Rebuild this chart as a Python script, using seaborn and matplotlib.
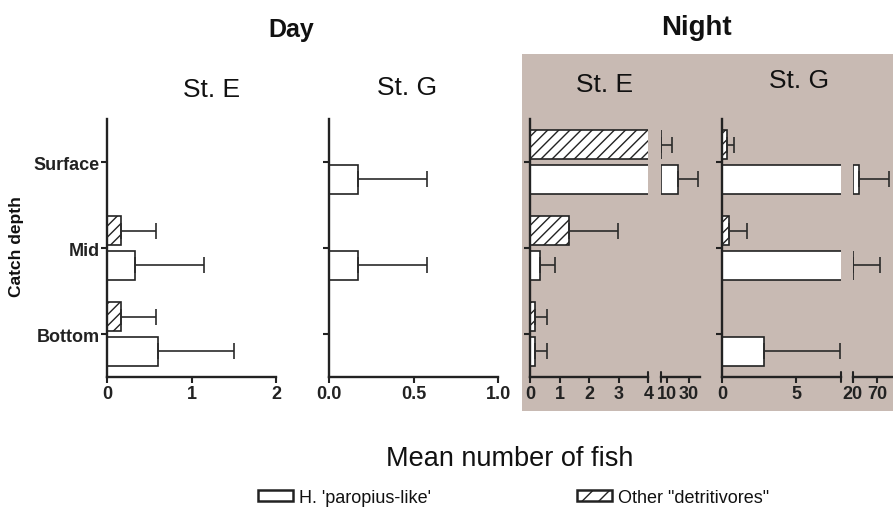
import matplotlib
matplotlib.use('Agg')
import matplotlib.pyplot as plt
from matplotlib.patches import Patch, Rectangle
import pandas as pd
import seaborn as sns

# данные: средние и SE по глубинам
depths = ['Surface', 'Mid', 'Bottom']
groups = ['Other "detritivores"', "H. 'paropius-like'"]

day_e_par = [0, 0.33, 0.6]
day_e_par_se = [0, 0.82, 0.9]
day_e_oth = [0, 0.17, 0.17]
day_e_oth_se = [0, 0.41, 0.41]

day_g_par = [0.17, 0.17, 0]
day_g_par_se = [0.41, 0.41, 0]
day_g_oth = [0, 0, 0]
day_g_oth_se = [0, 0, 0]

night_e_par = [20, 0.33, 0.17]
night_e_par_se = [18, 0.52, 0.41]
night_e_oth = [4.7, 1.33, 0.17]
night_e_oth_se = [10.3, 1.63, 0.41]

night_g_par = [33, 21, 2.8]
night_g_par_se = [61, 54, 5.1]
night_g_oth = [0.33, 0.5, 0]
night_g_oth_se = [0.47, 1.2, 0]

sns.set_style('ticks')
plt.rcParams['font.family'] = ['Liberation Sans', 'DejaVu Sans']
plt.rcParams['hatch.linewidth'] = 1.0
plt.rcParams['text.color'] = '#111111'
plt.rcParams['xtick.color'] = '#222222'
plt.rcParams['ytick.color'] = '#222222'
plt.rcParams['axes.edgecolor'] = '#222222'
narrow = ['Liberation Sans Narrow', 'Liberation Sans', 'DejaVu Sans']

W, H = 893, 510
fig = plt.figure(figsize=(W / 100, H / 100), dpi=100)

# серый фон для ночи
fig.patches.append(Rectangle((521.7 / W, 1 - 412 / H), (W - 521.7) / W, 357 / H,
                             transform=fig.transFigure, facecolor='#c8bab3',
                             edgecolor='none', zorder=-5))


def make_ax(x0, x1):
    ax = fig.add_axes([x0 / W, 1 - 378 / H, (x1 - x0) / W, 258 / H])
    ax.set_facecolor('none')
    ax.set_zorder(2)
    return ax


def panel(ax, par, par_se, oth, oth_se, xlim, ticks, labels, first=True):
    df = pd.DataFrame({'depth': depths * 2,
                       'group': [groups[0]] * 3 + [groups[1]] * 3,
                       'value': oth + par})
    sns.barplot(data=df, x='value', y='depth', hue='group', hue_order=groups,
                orient='h', palette=['white', 'white'], edgecolor='#222222',
                linewidth=1.2, width=0.8, gap=0.15, legend=False, ax=ax)
    bars = list(ax.containers)
    for p in bars[0]:
        p.set_hatch('///')
    lo = xlim[0]
    if not first:
        for c in bars:
            for p in c:
                x0, w = p.get_x(), p.get_width()
                if x0 + w > lo:
                    p.set_x(lo)
                    p.set_width(x0 + w - lo)
                else:
                    p.set_visible(False)
    for c, vals, se in zip(bars, [oth, par], [oth_se, par_se]):
        for p, v, s in zip(c, vals, se):
            if s > 0:
                yc = p.get_y() + p.get_height() / 2
                ax.errorbar([v], [yc], xerr=[[0], [s]], fmt='none', ecolor='#2a2a2a',
                            elinewidth=1.2, capsize=5.5, capthick=1.2)
    ax.set_xlim(*xlim)
    ax.set_ylim(2.5, -0.5)
    ax.set_xlabel('')
    ax.set_ylabel('')
    ax.set_xticks(ticks)
    ax.set_xticklabels(labels, fontweight='bold', fontsize=13, family=narrow)
    ax.tick_params(axis='x', direction='out', length=4, width=1.5, pad=2)
    ax.tick_params(axis='y', direction='out', length=4, width=1.5, pad=1)
    for s in ['top', 'right']:
        ax.spines[s].set_visible(False)
    ax.spines['bottom'].set_linewidth(1.7)
    ax.spines['left'].set_linewidth(1.7)
    if first:
        ax.set_yticks([0, 1, 2])
        ax.set_yticklabels([])
    else:
        ax.spines['left'].set_visible(False)
        ax.set_yticks([])


def brk(ax, x):
    ax.plot([x, x], [-0.018, 0.018], color='#222222', lw=1.5,
            transform=ax.get_xaxis_transform(), clip_on=False)


ax1 = make_ax(107, 276)
panel(ax1, day_e_par, day_e_par_se, day_e_oth, day_e_oth_se, (0, 2), [0, 1, 2], ['0', '1', '2'])
ax1.set_yticklabels(depths, fontweight='bold', fontsize=13)

ax2 = make_ax(329.3, 498.3)
panel(ax2, day_g_par, day_g_par_se, day_g_oth, day_g_oth_se, (0, 1), [0, 0.5, 1],
      ['0.0', '0.5', '1.0'])

ax3a = make_ax(530, 648.3)
panel(ax3a, night_e_par, night_e_par_se, night_e_oth, night_e_oth_se, (0, 4),
      [0, 1, 2, 3, 4], ['0', '1', '2', '3', '4'])
brk(ax3a, 4)
ax3b = make_ax(660.7, 700)
panel(ax3b, night_e_par, night_e_par_se, night_e_oth, night_e_oth_se, (4.6, 40),
      [10, 30], ['10', '30'], first=False)
brk(ax3b, 4.6)

ax4a = make_ax(722, 841)
panel(ax4a, night_g_par, night_g_par_se, night_g_oth, night_g_oth_se, (0, 8),
      [0, 5], ['0', '5'])
brk(ax4a, 8)
ax4b = make_ax(852.7, 891.7)
panel(ax4b, night_g_par, night_g_par_se, night_g_oth, night_g_oth_se, (20, 100),
      [20, 70], ['20', '70'], first=False)
brk(ax4b, 20)

# подписи
fig.text(291.7 / W, 1 - 37.3 / H, 'Day', ha='center', va='baseline', fontsize=18, fontweight='bold')
fig.text(696.7 / W, 1 - 35 / H, 'Night', ha='center', va='baseline', fontsize=20, fontweight='bold')
fig.text(211.5 / W, 1 - 97 / H, 'St. E', ha='center', va='baseline', fontsize=19)
fig.text(407.5 / W, 1 - 95 / H, 'St. G', ha='center', va='baseline', fontsize=19)
fig.text(605 / W, 1 - 91.7 / H, 'St. E', ha='center', va='baseline', fontsize=19)
fig.text(799 / W, 1 - 88.3 / H, 'St. G', ha='center', va='baseline', fontsize=19)
fig.text(17 / W, 1 - 246.7 / H, 'Catch depth', ha='center', va='center', rotation=90,
         fontsize=12.5, fontweight='bold')
fig.text(510 / W, 1 - 466 / H, 'Mean number of fish', ha='center', va='baseline', fontsize=19.5)

handles = [Patch(facecolor='white', edgecolor='#222222', lw=1.8),
           Patch(facecolor='white', edgecolor='#222222', lw=1.8, hatch='//')]
fig.legend(handles, [groups[1], groups[0]], loc='center', ncol=2,
           bbox_to_anchor=(513.4 / W, 1 - 498.5 / H), frameon=False, fontsize=13,
           handlelength=1.95, handleheight=0.6, handletextpad=0.3, columnspacing=8.1,
           borderpad=0, borderaxespad=0)

fig.savefig('out.png', dpi=100)
